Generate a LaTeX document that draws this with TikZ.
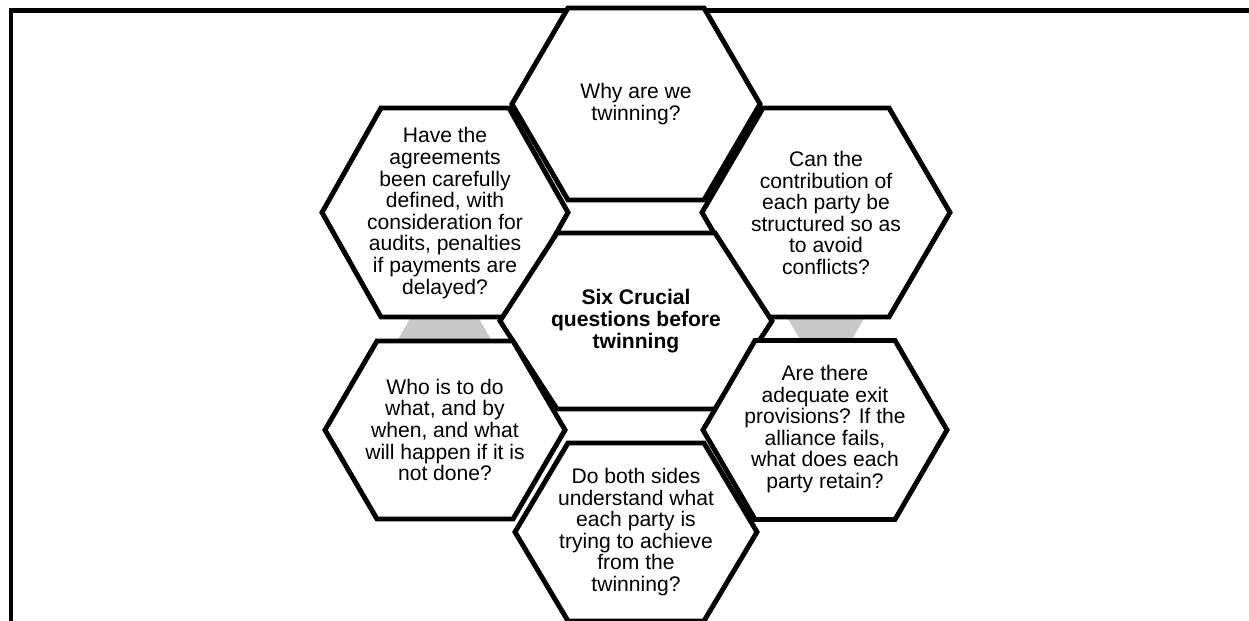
\documentclass[tikz,border=0pt]{standalone}
\usepackage{fontspec}
\setmainfont{Liberation Sans}
\definecolor{gapgrey}{RGB}{200,200,200}
\tikzset{cell/.style={draw=black,fill=white,line width=2.8pt,line join=miter},
  frame/.style={draw=black,line width=2.8pt,line join=miter},
  txt/.style={align=center,inner sep=0pt,font=\fontsize{12}{12.3}\selectfont}}

\begin{document}
\begin{tikzpicture}[x=0.02cm,y=-0.02cm]
  \useasboundingbox (0,0) rectangle (1249,621);
  \draw[frame] (11,640) -- (11,10.5) -- (1260,10.5);
  \fill[gapgrey] (411,317) -- (478,317) -- (492,341) -- (397,341) -- cycle;
  \fill[gapgrey] (787,317) -- (865,317) -- (851,341) -- (801,341) -- cycle;
  \draw[cell] (636,104) +(124,0) -- +(68,96) -- +(-68,96) -- +(-124,0) -- +(-68,-96) -- +(68,-96) -- cycle;
  \draw[cell] (445,212.5) +(123,0) -- +(64,104.5) -- +(-64,104.5) -- +(-123,0) -- +(-64,-104.5) -- +(64,-104.5) -- cycle;
  \draw[cell] (826,212.5) +(124,0) -- +(63,104.5) -- +(-63,104.5) -- +(-124,0) -- +(-63,-104.5) -- +(63,-104.5) -- cycle;
  \draw[cell] (636,321) +(136,0) -- +(79,88) -- +(-79,88) -- +(-136,0) -- +(-79,-88) -- +(79,-88) -- cycle;
  \draw[cell] (445,430) +(120,0) -- +(68,89) -- +(-68,89) -- +(-120,0) -- +(-68,-89) -- +(68,-89) -- cycle;
  \draw[cell] (825,430) +(122,0) -- +(70,89.5) -- +(-70,89.5) -- +(-122,0) -- +(-70,-89.5) -- +(70,-89.5) -- cycle;
  \draw[cell] (636,532) +(121,0) -- +(68,89) -- +(-68,89) -- +(-121,0) -- +(-68,-89) -- +(68,-89) -- cycle;
  \node[txt] (why) at (636,104) {Why are we\\twinning?};
  \node[txt] (agree) at (445,213) {Have the\\agreements\\been carefully\\defined, with\\consideration for\\audits, penalties\\if payments are\\delayed?};
  \node[txt] (contrib) at (826,213) {Can the\\contribution of\\each party be\\structured so as\\to avoid\\conflicts?};
  \node[txt,font=\fontsize{12}{12.3}\selectfont\bfseries] (six) at (636,321) {Six Crucial\\questions before\\twinning};
  \node[txt] (who) at (445,430) {Who is to do\\what, and by\\when, and what\\will happen if it is\\not done?};
  \node[txt] (exit) at (825,429) {Are there\\adequate exit\\provisions? If the\\alliance fails,\\what does each\\party retain?};
  \node[txt] (goals) at (636,532) {Do both sides\\understand what\\each party is\\trying to achieve\\from the\\twinning?};
 \end{tikzpicture}
\end{document}
